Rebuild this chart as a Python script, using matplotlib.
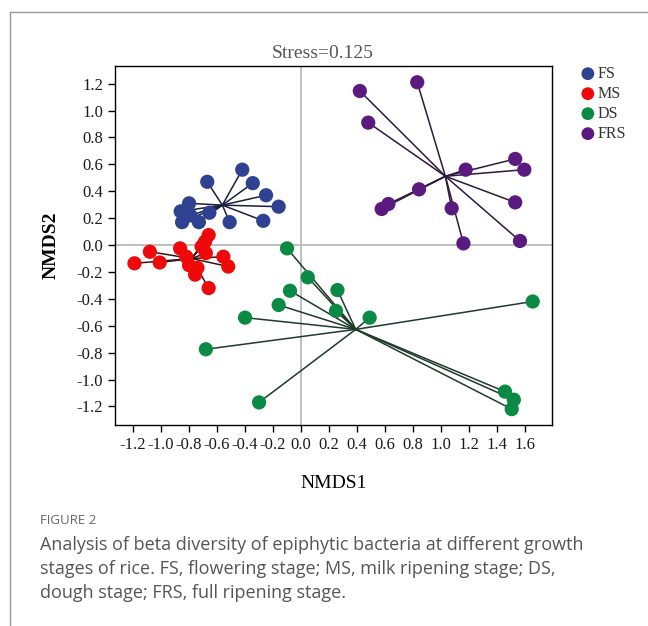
import numpy as np
import matplotlib
matplotlib.use("Agg")
import matplotlib.pyplot as plt
from matplotlib.lines import Line2D

# ------------------------------------------------------------
# Data
# ------------------------------------------------------------
groups = ["FS", "MS", "DS", "FRS"]
colors = ["#2F4191", "#EE0A0A", "#0A8A45", "#5B1A80"]
line_colors = ["#1A1F3F", "#3A1212", "#1E3A2A", "#2E1A3C"]

fs_x = [-0.42, -0.67, -0.345, -0.25, -0.16, -0.27, -0.51, -0.80, -0.86, -0.655, -0.73, -0.85, -0.79]
fs_y = [0.56, 0.47, 0.46, 0.37, 0.285, 0.18, 0.17, 0.31, 0.25, 0.24, 0.17, 0.17, 0.22]

ms_x = [-0.66, -0.686, -0.864, -1.08, -1.19, -1.01, -0.82, -0.80, -0.74, -0.757, -0.68, -0.555, -0.52, -0.66, -0.71]
ms_y = [0.074, 0.025, -0.025, -0.05, -0.136, -0.13, -0.087, -0.15, -0.17, -0.22, -0.06, -0.087, -0.16, -0.32, -0.012]

ds_x = [-0.10, 0.048, -0.079, 0.26, -0.16, 0.25, 0.49, -0.40, -0.68, -0.30, 1.655, 1.457, 1.52, 1.505]
ds_y = [-0.025, -0.24, -0.34, -0.335, -0.446, -0.49, -0.54, -0.54, -0.775, -1.17, -0.42, -1.09, -1.15, -1.22]

frs_x = [0.42, 0.83, 0.48, 1.53, 1.595, 1.176, 0.843, 0.624, 0.576, 1.076, 1.53, 1.16, 1.564]
frs_y = [1.145, 1.21, 0.91, 0.64, 0.56, 0.56, 0.414, 0.305, 0.268, 0.273, 0.317, 0.012, 0.03]

xs = [fs_x, ms_x, ds_x, frs_x]
ys = [fs_y, ms_y, ds_y, frs_y]

x_ticks = [-1.2, -1.0, -0.8, -0.6, -0.4, -0.2, 0.0, 0.2, 0.4, 0.6, 0.8, 1.0, 1.2, 1.4, 1.6]
y_ticks = [-1.2, -1.0, -0.8, -0.6, -0.4, -0.2, 0.0, 0.2, 0.4, 0.6, 0.8, 1.0, 1.2]

caption = ("Analysis of beta diversity of epiphytic bacteria at different growth\n"
           "stages of rice. FS, flowering stage; MS, milk ripening stage; DS,\n"
           "dough stage; FRS, full ripening stage.")

# ------------------------------------------------------------
# Plot
# ------------------------------------------------------------
plt.rcParams["font.family"] = ["Liberation Serif", "DejaVu Serif"]

fig = plt.figure(figsize=(6.48, 6.26), dpi=100)
ax = fig.add_axes([0.1775, 0.3211, 0.6744, 0.5735])

ax.axhline(0, color="#BBBBBB", lw=1.3, zorder=1)
ax.axvline(0, color="#BBBBBB", lw=1.3, zorder=1)

for gx, gy, c, lc, name in zip(xs, ys, colors, line_colors, groups):
    gx = np.array(gx)
    gy = np.array(gy)
    cx, cy = gx.mean(), gy.mean()
    for px, py in zip(gx, gy):
        ax.plot([cx, px], [cy, py], color=lc, lw=1.1, zorder=2)
    ax.scatter(gx, gy, s=105, color=c, edgecolors="none", zorder=3, label=name)

ax.set_xlim(-1.329, 1.793)
ax.set_ylim(-1.338, 1.331)
ax.set_xticks(x_ticks)
ax.set_yticks(y_ticks)
ax.set_xticklabels([f"{v:.1f}" for v in x_ticks], fontsize=12, color="#1A1A1A")
ax.set_yticklabels([f"{v:.1f}" for v in y_ticks], fontsize=12, color="#1A1A1A")
ax.tick_params(direction="out", length=5, width=1)
for sp in ax.spines.values():
    sp.set_linewidth(1)

ax.set_xlabel("NMDS1", fontsize=14, labelpad=16)
ax.set_ylabel("NMDS2", fontsize=14, fontweight="bold", labelpad=12)
ax.text(0.476, 1.012, "Stress=0.125", transform=ax.transAxes, ha="center", va="bottom",
        fontsize=14, color="#555555")

leg = fig.legend(loc="upper left", bbox_to_anchor=(0.885, 0.905), frameon=False,
                 fontsize=11.5, handletextpad=0.1, labelspacing=0.25, borderaxespad=0,
                 markerscale=0.9, handlelength=1.0)
for t in leg.get_texts():
    t.set_color("#333333")

# article frame and caption
fig.add_artist(Line2D([0.0155, 0.0155], [0.0, 0.981], color="#999999", lw=1))
fig.add_artist(Line2D([0.0155, 1.0], [0.981, 0.981], color="#999999", lw=1))
fig.text(0.062, 1 - 521 / 626, "FIGURE 2", fontsize=9.5, color="#666666",
         family="Open Sans", va="center")
fig.text(0.062, 1 - 536 / 626, caption, fontsize=13, color="#555555",
         family="Open Sans", va="top", linespacing=1.42)

fig.savefig("out.png", dpi=100)
